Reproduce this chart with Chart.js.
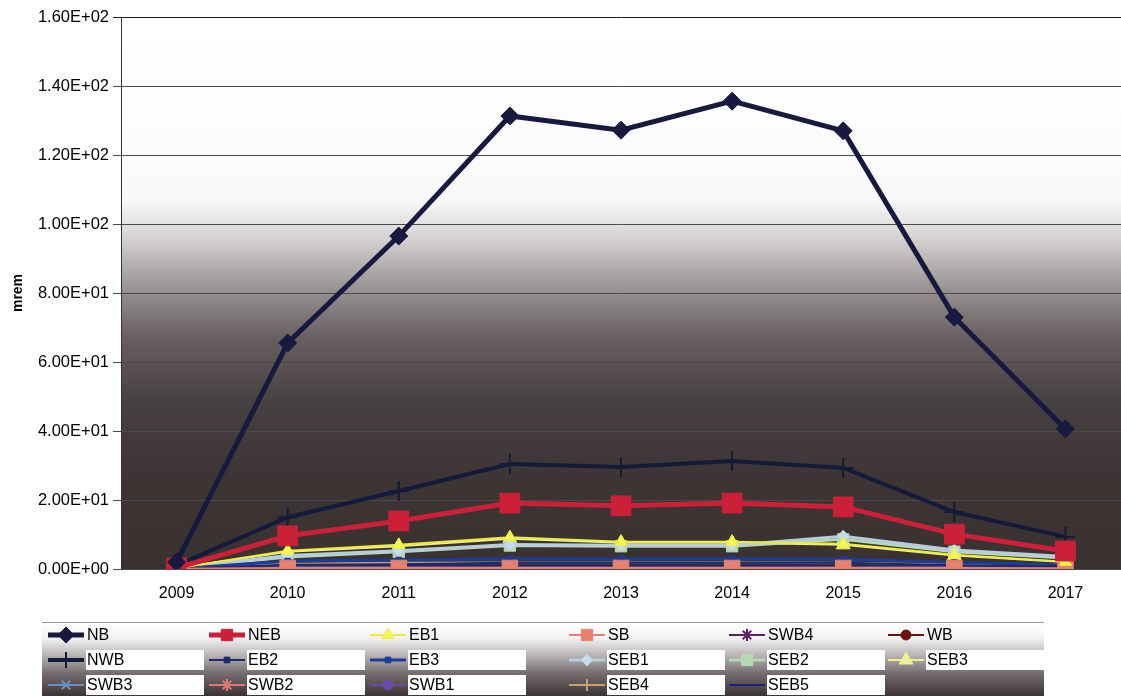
<!DOCTYPE html>
<html>
<head>
<meta charset="utf-8">
<script src="https://cdn.jsdelivr.net/npm/chart.js@4/dist/chart.umd.min.js"></script>
<style>
  html, body { margin: 0; padding: 0; background: #ffffff; }
  #wrap { width: 1121px; height: 696px; position: relative; }
</style>
</head>
<body>
<div id="wrap"><canvas id="c" width="1121" height="696"></canvas></div>
<script>
// Monitoring years
const years = ['2009', '2010', '2011', '2012', '2013', '2014', '2015', '2016', '2017'];

// Dose per location (mrem)
const NB   = [2.0, 65.5, 96.5, 131.3, 127.2, 135.6, 127.0, 73.0, 40.6];
const NEB  = [0.3, 9.6, 13.9, 19.1, 18.3, 19.1, 18.0, 10.1, 5.2];
const EB1  = [0.2, 5.3, 7.0, 9.2, 7.9, 7.9, 7.3, 4.1, 2.1];
const SB   = [0.1, 0.3, 0.3, 0.3, 0.3, 0.3, 0.3, 0.3, 0.2];
const SWB4 = [0.1, 0.3, 0.4, 0.4, 0.4, 0.4, 0.4, 0.3, 0.2];
const WB   = [0.1, 0.2, 0.3, 0.3, 0.3, 0.3, 0.3, 0.2, 0.1];
const NWB  = [1.0, 15.0, 22.6, 30.4, 29.6, 31.3, 29.3, 16.5, 9.3];
const EB2  = [0.1, 1.2, 1.4, 1.8, 1.8, 1.9, 1.8, 1.1, 0.7];
const EB3  = [0.1, 2.3, 2.6, 3.0, 2.9, 3.0, 2.8, 1.9, 1.2];
const SEB1 = [0.2, 3.9, 5.3, 7.1, 6.9, 6.9, 9.5, 5.5, 3.6];
const SEB2 = [0.2, 3.5, 5.0, 6.8, 6.6, 6.6, 8.6, 5.0, 3.2];
const SEB3 = [0.2, 5.0, 6.6, 8.8, 7.6, 7.6, 7.0, 3.9, 2.0];
const SWB3 = [0.1, 0.4, 0.5, 0.5, 0.5, 0.5, 0.5, 0.4, 0.3];
const SWB2 = [0.1, 0.2, 0.2, 0.2, 0.2, 0.2, 0.2, 0.2, 0.1];
const SWB1 = [0.1, 0.2, 0.2, 0.3, 0.3, 0.3, 0.3, 0.2, 0.1];
const SEB4 = [0.1, 1.5, 1.8, 1.9, 1.9, 2.0, 1.8, 1.4, 0.9];
const SEB5 = [0.05, 0.6, 0.8, 0.9, 0.9, 0.9, 0.9, 0.6, 0.4];

// Y axis tick labels, 0 to 160 in steps of 20
const yTickLabels = ['0.00E+00', '2.00E+01', '4.00E+01', '6.00E+01', '8.00E+01',
                     '1.00E+02', '1.20E+02', '1.40E+02', '1.60E+02'];

const FONT = '"Liberation Sans", Arial, sans-serif';

function series(label, data, color, style, radius, width, fill) {
  return {
    label: label,
    data: data,
    borderColor: color,
    backgroundColor: fill || color,
    pointBackgroundColor: fill || color,
    pointBorderColor: color,
    borderWidth: width,
    pointStyle: style,
    pointRadius: radius,
    pointBorderWidth: style === 'cross' || style === 'crossRot' || style === 'star' ? 2 : 1,
    tension: 0
  };
}

const datasets = [
  series('NB',   NB,   '#17193e', 'rectRot', 9, 5),
  series('NEB',  NEB,  '#cc2038', 'rect', 14, 5),
  series('EB1',  EB1,  '#eeee3a', 'triangle', 7, 2, '#f6f650'),
  series('SB',   SB,   '#e88070', 'rect', 11, 2, '#e88070'),
  series('SWB4', SWB4, '#5a2060', 'star', 6, 2),
  series('WB',   WB,   '#6a1410', 'circle', 5, 2),
  series('NWB',  NWB,  '#131a3a', 'cross', 10, 4),
  series('EB2',  EB2,  '#1a2a6a', 'rect', 4, 2),
  series('EB3',  EB3,  '#1c3c9a', 'rect', 4, 3),
  series('SEB1', SEB1, '#b8cce0', 'rectRot', 6, 3, '#c8dcf0'),
  series('SEB2', SEB2, '#b8d8b8', 'rect', 8, 3, '#b8d8b0'),
  series('SEB3', SEB3, '#f0f090', 'triangle', 8, 2, '#f0f098'),
  series('SWB3', SWB3, '#6890c0', 'crossRot', 6, 2),
  series('SWB2', SWB2, '#e07878', 'star', 6, 2),
  series('SWB1', SWB1, '#6a4aa8', 'circle', 5, 2),
  series('SEB4', SEB4, '#c8a070', 'cross', 6, 2),
  series('SEB5', SEB5, '#14247a', false, 0, 2)
];

// Plot background: white at the top fading to a dark brown-grey at the base
const plotBackground = {
  id: 'plotBackground',
  beforeDraw(chart) {
    const { ctx, chartArea: a } = chart;
    const g = ctx.createLinearGradient(0, a.top, 0, a.bottom);
    g.addColorStop(0.0, '#ffffff');
    g.addColorStop(0.33, '#fafafa');
    g.addColorStop(0.41, '#d0cccc');
    g.addColorStop(0.49, '#9a9494');
    g.addColorStop(0.58, '#686060');
    g.addColorStop(0.70, '#474040');
    g.addColorStop(0.84, '#3d3434');
    g.addColorStop(1.0, '#3a3131');
    ctx.save();
    ctx.fillStyle = g;
    ctx.fillRect(a.left, a.top, a.right - a.left, a.bottom - a.top);
    ctx.restore();
  }
};

// Legend block under the axis: three rows of line samples with markers
const legendBlock = {
  id: 'legendBlock',
  afterDraw(chart) {
    const ctx = chart.ctx;
    const boxL = 42, boxT = 622, boxR = 1044, boxB = 696;
    const colX = [86, 247, 408, 607, 767, 926];
    const rowY = [635, 660, 685];
    ctx.save();
    const g = ctx.createLinearGradient(0, boxT, 0, boxB);
    g.addColorStop(0.0, '#ffffff');
    g.addColorStop(0.22, '#f2f2f2');
    g.addColorStop(0.45, '#b8b4b4');
    g.addColorStop(0.7, '#746c6c');
    g.addColorStop(1.0, '#3c3434');
    ctx.fillStyle = g;
    ctx.fillRect(boxL, boxT, boxR - boxL, boxB - boxT);
    ctx.strokeStyle = '#9a9a9a';
    ctx.lineWidth = 1;
    ctx.beginPath();
    ctx.moveTo(boxL, boxT + 0.5);
    ctx.lineTo(boxR, boxT + 0.5);
    ctx.stroke();

    ctx.font = '16px ' + FONT;
    ctx.textBaseline = 'middle';
    chart.data.datasets.forEach((ds, i) => {
      const row = Math.floor(i / 6), col = i % 6;
      const tx = colX[col], y = rowY[row];
      if (row > 0) {
        ctx.fillStyle = '#ffffff';
        ctx.fillRect(tx, y - 10, 118, 20);
      }
      // line sample
      ctx.strokeStyle = ds.borderColor;
      ctx.lineWidth = ds.borderWidth;
      ctx.beginPath();
      ctx.moveTo(tx - 38, y);
      ctx.lineTo(tx - 2, y);
      ctx.stroke();
      if (ds.pointStyle) {
        ctx.fillStyle = ds.pointBackgroundColor;
        ctx.strokeStyle = ds.pointBorderColor;
        ctx.lineWidth = ds.pointBorderWidth;
        Chart.helpers.drawPoint(ctx, {
          pointStyle: ds.pointStyle,
          radius: Math.min(ds.pointRadius, 8),
          rotation: 0,
          borderWidth: ds.pointBorderWidth
        }, tx - 20, y);
      }
      ctx.fillStyle = '#000000';
      ctx.textAlign = 'left';
      ctx.fillText(ds.label, tx + 1, y + 1);
    });
    ctx.restore();
  }
};

new Chart(document.getElementById('c'), {
  type: 'line',
  data: { labels: years, datasets: datasets },
  plugins: [plotBackground, legendBlock],
  options: {
    responsive: false,
    animation: false,
    layout: { autoPadding: false, padding: { left: 0, right: 0, top: 17, bottom: 97 } },
    plugins: {
      legend: { display: false },
      tooltip: { enabled: false },
      title: { display: false }
    },
    scales: {
      x: {
        offset: true,
        grid: { display: false, drawTicks: false },
        border: { display: false },
        ticks: {
          color: '#000000',
          padding: 15,
          font: { family: FONT, size: 16 }
        },
        afterFit(scale) {
          scale.height = 30;
          scale.paddingLeft = 0;
          scale.paddingRight = 0;
        }
      },
      y: {
        min: 0,
        max: 160,
        ticks: {
          stepSize: 20,
          color: '#000000',
          padding: 4,
          font: { family: FONT, size: 16.5 },
          callback: (v, i) => yTickLabels[i]
        },
        grid: {
          color: (c) => (c.index === 8 ? '#1e1e1e' : '#4a4a4a'),
          lineWidth: 1,
          tickLength: 8
        },
        border: { display: true, color: '#333333', width: 1 },
        title: {
          display: true,
          text: 'mrem',
          color: '#000000',
          font: { family: FONT, size: 14, weight: 'bold' },
          padding: { top: 10, bottom: 0 }
        },
        afterFit(scale) {
          scale.width = 121;
          scale.paddingTop = 0;
          scale.paddingBottom = 0;
        }
      }
    }
  }
});
</script>
</body>
</html>
